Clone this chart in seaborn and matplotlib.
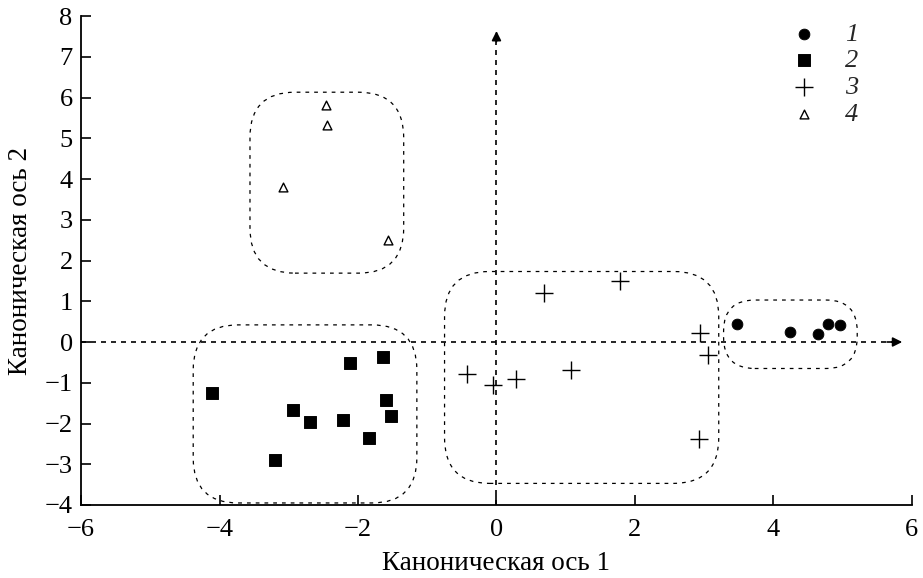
import matplotlib
matplotlib.use("Agg")
import matplotlib.pyplot as plt
import numpy as np
import pandas as pd
import seaborn as sns
from matplotlib.patches import FancyBboxPatch

# group 1 (circles)
x1 = [3.48, 4.24, 4.65, 4.79, 4.96]
y1 = [0.45, 0.25, 0.20, 0.45, 0.41]
# group 2 (squares)
x2 = [-4.11, -2.11, -1.64, -1.59, -1.53, -2.94, -2.69, -2.22, -1.84, -3.20]
y2 = [-1.26, -0.52, -0.38, -1.43, -1.82, -1.68, -1.97, -1.92, -2.36, -2.90]
# group 3 (plus)
x3 = [0.68, 1.79, 2.94, 3.06, -0.43, -0.05, 0.28, 1.08, 2.93]
y3 = [1.21, 1.50, 0.21, -0.32, -0.79, -1.06, -0.90, -0.69, -2.38]
# group 4 (triangles)
x4 = [-2.46, -2.45, -3.09, -1.56]
y4 = [5.82, 5.33, 3.81, 2.50]

groups = ["1", "2", "3", "4"]
# dashed group outlines: x0, y0, x1, y1
outlines = {
    "1": [3.28, -0.65, 5.21, 1.03],
    "2": [-4.38, -3.95, -1.15, 0.42],
    "3": [-0.75, -3.47, 3.21, 1.73],
    "4": [-3.56, 1.69, -1.34, 6.13],
}

df = pd.concat([
    pd.DataFrame({"x": x1, "y": y1, "g": "1"}),
    pd.DataFrame({"x": x2, "y": y2, "g": "2"}),
    pd.DataFrame({"x": x3, "y": y3, "g": "3"}),
    pd.DataFrame({"x": x4, "y": y4, "g": "4"}),
])

sns.set_theme(style="ticks")
plt.rcParams["font.family"] = ["Liberation Serif", "DejaVu Serif"]

fig = plt.figure(figsize=(9.23, 5.78), dpi=100)
ax = fig.add_axes([0.0878, 0.1263, 0.9002, 0.8460])

styles = {
    "1": dict(marker="o", s=60, color="black", edgecolor="black"),
    "2": dict(marker="s", s=70, color="black", edgecolor="black"),
    "3": dict(marker="+", s=150, color="black", linewidth=1.0),
    "4": dict(marker="^", s=40, facecolor="white", edgecolor="black", linewidth=1.0),
}
for g in groups:
    sub = df[df["g"] == g]
    sns.scatterplot(data=sub, x="x", y="y", ax=ax, label=g, zorder=3, **styles[g])

# dashed outlines around groups
aspect = (69.3 / 40.75)
for g in groups:
    bx0, by0, bx1, by1 = outlines[g]
    rad = 0.45 if g == "1" else 0.65
    box = FancyBboxPatch((bx0, by0), bx1 - bx0, by1 - by0,
                         boxstyle=f"round,pad=0,rounding_size={rad}",
                         mutation_aspect=aspect,
                         fill=False, edgecolor="black", linestyle=(0, (3, 4)),
                         linewidth=0.9, zorder=2)
    ax.add_patch(box)

# dashed coordinate axes with arrows
ax.plot([-6, 5.75], [0, 0], color="black", linestyle=(0, (3, 3)), linewidth=1.2, zorder=1)
ax.plot([0, 0], [-4, 7.45], color="black", linestyle=(0, (3, 3)), linewidth=1.2, zorder=1)
ax.annotate("", xy=(5.9, 0), xytext=(5.6, 0),
            arrowprops=dict(arrowstyle="-|>", color="black", lw=1.2, mutation_scale=14))
ax.annotate("", xy=(0, 7.7), xytext=(0, 7.3),
            arrowprops=dict(arrowstyle="-|>", color="black", lw=1.2, mutation_scale=14))

ax.set_xlim(-6, 6)
ax.set_ylim(-4, 8)
ax.set_xticks(np.arange(-6, 7, 2))
ax.set_yticks(np.arange(-4, 9, 1))
ax.tick_params(direction="in", length=7, width=1.2, labelsize=19, colors="black")
ax.tick_params(axis="x", pad=10)
ax.tick_params(axis="y", pad=6)
for side in ["top", "right"]:
    ax.spines[side].set_visible(False)
for side in ["left", "bottom"]:
    ax.spines[side].set_linewidth(1.3)
    ax.spines[side].set_color("black")

ax.set_xlabel("Каноническая ось 1", fontsize=19.5, color="black", labelpad=7)
ax.set_ylabel("Каноническая ось 2", fontsize=19.5, color="black", labelpad=8)

leg = ax.legend(loc="upper right", bbox_to_anchor=(0.958, 1.025), frameon=False,
                prop={"family": "Liberation Serif", "style": "italic", "size": 19},
                handletextpad=0.8, labelspacing=0.12, borderpad=0.2, handlelength=1.5)

plt.savefig("out.png", dpi=100)
plt.close()
